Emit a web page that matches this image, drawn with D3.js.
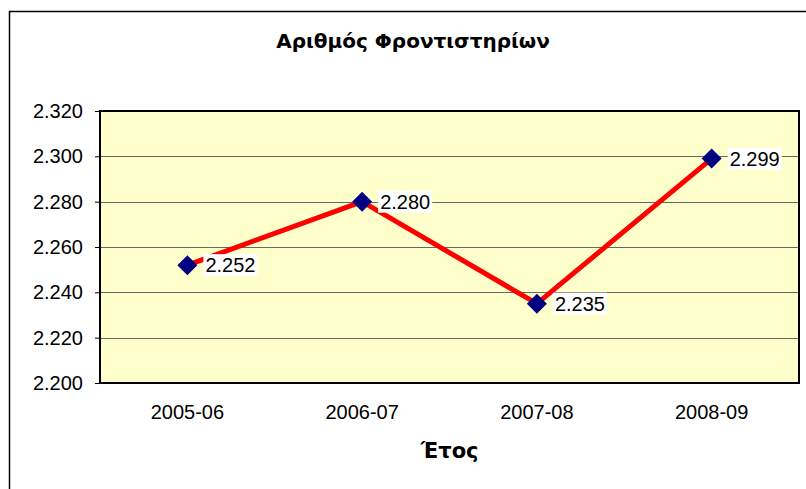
<!DOCTYPE html>
<html>
<head>
<meta charset="utf-8">
<script src="https://cdn.jsdelivr.net/npm/d3@7"></script>
<style>
  body { margin: 0; background: #fff; }
  svg { display: block; font-family: Arial, "Liberation Sans", sans-serif; }
</style>
</head>
<body>
<svg id="chart"></svg>
<script>
// data
const years = ["2005-06", "2006-07", "2007-08", "2008-09"];
const counts = [2252, 2280, 2235, 2299];
const yTicks = [2200, 2220, 2240, 2260, 2280, 2300, 2320];
const chartTitle = "Αριθμός Φροντιστηρίων";
const xTitle = "Έτος";

const width = 806, height = 489;
const plot = { left: 100, top: 111, right: 799, bottom: 383 };
const titleFont = "'DejaVu Sans', Verdana, sans-serif";

const svg = d3.select("#chart").attr("width", width).attr("height", height);

// greek number format: 2.320
const fmt = d3.formatLocale({ decimal: ",", thousands: ".", grouping: [3], currency: ["", "€"] }).format(",");

const x = d3.scaleBand().domain(years).range([plot.left, plot.right]);
const y = d3.scaleLinear().domain([2200, 2320]).range([plot.bottom, plot.top]);

// outer chart frame (cut off on right and bottom)
svg.append("path")
  .attr("d", `M9.5,${height + 2}V11.5H${width + 2}`)
  .attr("fill", "none").attr("stroke", "#000").attr("stroke-width", 1.5);

// title
svg.append("text")
  .attr("x", 413).attr("y", 48)
  .attr("text-anchor", "middle")
  .attr("font-family", titleFont)
  .attr("font-size", 20).attr("font-weight", "bold")
  .text(chartTitle);

// plot background
svg.append("rect")
  .attr("x", plot.left).attr("y", plot.top)
  .attr("width", plot.right - plot.left).attr("height", plot.bottom - plot.top)
  .attr("fill", "#ffffcc");

// gridlines
svg.append("g").selectAll("line")
  .data(yTicks.slice(1, -1))
  .join("line")
    .attr("x1", plot.left).attr("x2", plot.right)
    .attr("y1", d => Math.round(y(d)) + 0.5).attr("y2", d => Math.round(y(d)) + 0.5)
    .attr("stroke", "#666").attr("stroke-width", 1);

// y axis
const yAxis = svg.append("g")
  .attr("transform", `translate(${plot.left},0)`)
  .call(d3.axisLeft(y).tickValues(yTicks).tickFormat(fmt).tickSize(5).tickPadding(12));
yAxis.select(".domain").remove();
yAxis.selectAll("line").attr("stroke", "#000");
yAxis.selectAll("text").attr("font-size", 20).attr("fill", "#000")
  .attr("font-family", "Arial, 'Liberation Sans', sans-serif");

// plot border
svg.append("rect")
  .attr("x", plot.left).attr("y", plot.top)
  .attr("width", plot.right - plot.left).attr("height", plot.bottom - plot.top)
  .attr("fill", "none").attr("stroke", "#000").attr("stroke-width", 2);

// x labels
svg.append("g").selectAll("text")
  .data(years)
  .join("text")
    .attr("x", d => x(d) + x.bandwidth() / 2)
    .attr("y", 419)
    .attr("text-anchor", "middle")
    .attr("font-size", 20)
    .text(d => d);

// x title
svg.append("text")
  .attr("x", 449.5).attr("y", 458)
  .attr("text-anchor", "middle")
  .attr("font-family", titleFont)
  .attr("font-size", 21).attr("font-weight", "bold")
  .text(xTitle);

const pts = years.map((d, i) => ({ year: d, value: counts[i] }));
const cx = d => x(d.year) + x.bandwidth() / 2;

// red line
svg.append("path")
  .datum(pts)
  .attr("d", d3.line().x(cx).y(d => y(d.value)))
  .attr("fill", "none").attr("stroke", "#ff0000").attr("stroke-width", 5)
  .attr("stroke-linejoin", "round");

// navy diamonds
svg.append("g").selectAll("path")
  .data(pts)
  .join("path")
    .attr("transform", d => `translate(${cx(d)},${y(d.value)})`)
    .attr("d", "M0,-10L10,0L0,10L-10,0Z")
    .attr("fill", "#000080");

// value labels with white boxes
const labels = svg.append("g").selectAll("g")
  .data(pts)
  .join("g")
    .attr("transform", d => `translate(${cx(d) + 16},${y(d.value)})`);
labels.append("rect")
  .attr("fill", "#fff");
labels.append("text")
  .attr("x", 2).attr("dy", "0.35em")
  .attr("font-size", 20)
  .text(d => fmt(d.value));
labels.each(function() {
  const g = d3.select(this);
  const w = g.select("text").node().getComputedTextLength();
  g.select("rect").attr("x", 0).attr("y", -11).attr("width", w + 4).attr("height", 22);
});
</script>
</body>
</html>
